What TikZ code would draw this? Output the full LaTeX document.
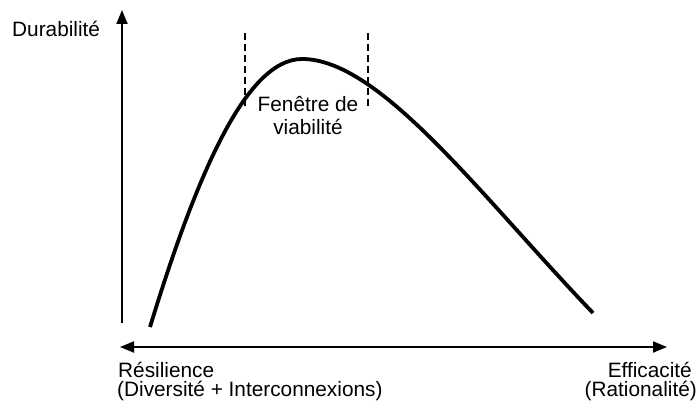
\documentclass[tikz,border=0pt]{standalone}
\usepackage{fontspec}
\setmainfont{Liberation Sans}
\usetikzlibrary{arrows.meta}
\begin{document}
\begin{tikzpicture}[x=1pt,y=-1pt,
  axis/.style={line width=2pt,-{Triangle[length=14pt,width=11pt]}},
  txt/.style={inner sep=0pt,font=\fontsize{20.8}{23}\selectfont},
  curve/.style={line width=3.8pt},
  window/.style={line width=1.6pt,dash pattern=on 7pt off 4pt}]
\useasboundingbox (0,0) rectangle (698,401);
\coordinate (yb) at (122,323);
\coordinate (yt) at (122,10);
\coordinate (xl) at (120,347);
\coordinate (xr) at (667,347);
\draw[axis] (yb) -- (yt);
\draw[axis,{Triangle[length=14pt,width=11pt]}-{Triangle[length=14pt,width=11pt]}] (xl) -- (xr);
\coordinate (c0) at (150,327);
\coordinate (peak) at (302,59);
\coordinate (c1) at (593,313);
\draw[curve] (c0) .. controls (195,180) and (245,59) .. (peak)
  .. controls (380,59) and (480,195) .. (c1);
\coordinate (d1t) at (245,33); \coordinate (d1b) at (245,107);
\coordinate (d2t) at (368,33); \coordinate (d2b) at (368,107);
\draw[window] (d1t) -- (d1b);
\draw[window] (d2t) -- (d2b);
\node[txt,anchor=base west] (ylab) at (12,37) {Durabilité};
\node[txt,anchor=base] (win1) at (308,111) {Fenêtre de};
\node[txt,anchor=base] (win2) at (308,134) {viabilité};
\node[txt,anchor=base west] (res1) at (118,377) {Résilience};
\node[txt,anchor=base west] (res2) at (117,396) {(Diversité + Interconnexions)};
\node[txt,anchor=base east] (eff1) at (692,377) {Efficacité};
\node[txt,anchor=base east] (eff2) at (697,396) {(Rationalité)};
\end{tikzpicture}
\end{document}
